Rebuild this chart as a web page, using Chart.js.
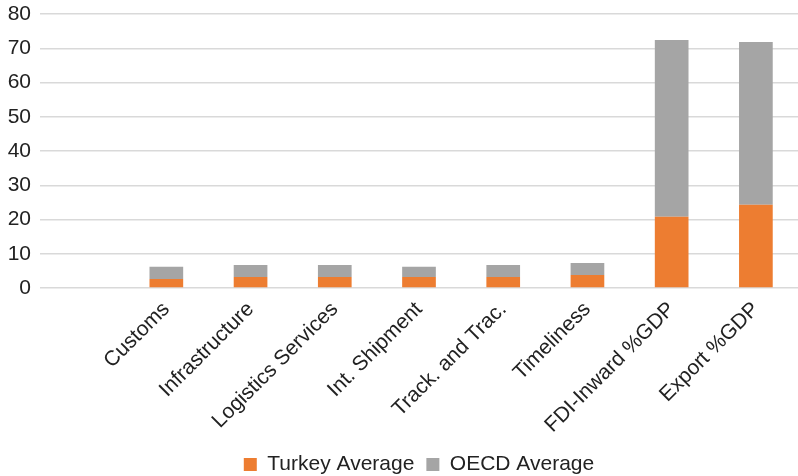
<!DOCTYPE html>
<html>
<head>
<meta charset="utf-8">
<script src="https://cdn.jsdelivr.net/npm/chart.js@4"></script>
<style>
  html, body { margin: 0; padding: 0; background: #fff; }
  #wrap { width: 798px; height: 476px; }
</style>
</head>
<body>
<div id="wrap"><canvas id="chart" width="798" height="476"></canvas></div>
<script>
// categories (first slot is left empty as in the source figure)
const categories = ["", "Customs", "Infrastructure", "Logistics Services", "Int. Shipment",
  "Track. and Trac.", "Timeliness", "FDI-Inward %GDP", "Export %GDP"];
const turkeyAvg = [null, 2.6, 3.2, 3.2, 3.2, 3.2, 3.8, 20.8, 24.3];
const oecdAvg = [null, 3.6, 3.5, 3.5, 3.0, 3.5, 3.5, 51.6, 47.5];
const yTicks = [0, 10, 20, 30, 40, 50, 60, 70, 80];

const FONT = "'Liberation Sans', Arial, Helvetica, sans-serif";
const TEXT = "#222";

new Chart(document.getElementById("chart"), {
  type: "bar",
  data: {
    labels: categories,
    datasets: [
      { label: "Turkey Average", data: turkeyAvg, backgroundColor: "#ED7D31" },
      { label: "OECD Average", data: oecdAvg, backgroundColor: "#A5A5A5" },
    ],
  },
  options: {
    responsive: false,
    animation: false,
    layout: { padding: { top: 14, right: 0, left: 4, bottom: -9 } },
    datasets: { bar: { categoryPercentage: 1, barPercentage: 0.4 } },
    plugins: {
      legend: {
        position: "bottom",
        fullSize: false,
        labels: {
          boxWidth: 13, boxHeight: 13, padding: 12,
          color: TEXT, font: { family: FONT, size: 21 },
        },
      },
      tooltip: { enabled: false },
    },
    scales: {
      x: {
        stacked: true,
        grid: { display: false },
        border: { display: false },
        ticks: {
          color: TEXT, font: { family: FONT, size: 21 },
          minRotation: 45, maxRotation: 45, padding: 1,
        },
        afterFit: (s) => { s.height = 154; },
      },
      y: {
        stacked: true,
        min: 0, max: 80,
        afterBuildTicks: (s) => { s.ticks = yTicks.map((v) => ({ value: v })); },
        grid: { color: "#d9d9d9", lineWidth: 1.5, drawTicks: false },
        border: { display: false },
        ticks: { color: TEXT, font: { family: FONT, size: 21 }, padding: 9 },
        afterFit: (s) => { s.width = 36; s.paddingTop = 0; s.paddingBottom = 0; },
      },
    },
  },
});
</script>
</body>
</html>
